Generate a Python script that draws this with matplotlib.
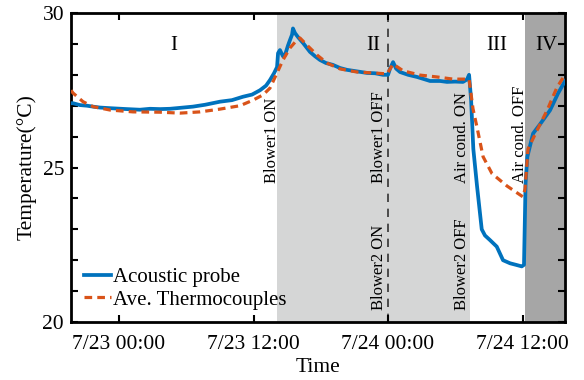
import matplotlib.pyplot as plt
import pandas as pd

# hours relative to 7/23 00:00
probe_hours = [-4.28, -4.10, -3.48, -2.86, -2.32, -1.70, -0.80, 0.71, 1.87, 2.77,
               3.66, 4.55, 5.44, 6.60, 7.67, 9.01, 10.08, 11.06, 11.87, 12.58,
               13.12, 13.47, 13.83, 14.10, 14.19, 14.36, 14.63, 14.81, 15.08, 15.26,
               15.44, 15.52, 15.70, 15.97, 16.42, 17.04, 17.49, 17.93, 18.47, 19.09,
               19.72, 20.34, 21.06, 22.13, 22.84, 23.55, 24.0, 24.18, 24.45, 24.72,
               25.07, 25.79, 26.59, 27.75, 28.64, 29.26, 29.98, 30.69, 31.05, 31.23,
               31.41, 31.61, 31.94, 32.36, 32.65, 33.10, 33.70, 34.26, 34.89, 35.42,
               35.93, 36.13, 36.27, 36.43, 36.94, 37.56, 38.45, 39.17, 39.79]
probe_temp = [27.08, 27.08, 27.02, 27.0, 26.97, 26.94, 26.92, 26.89, 26.87, 26.9,
              26.89, 26.9, 26.93, 26.97, 27.03, 27.13, 27.18, 27.29, 27.36, 27.5,
              27.65, 27.83, 28.05, 28.25, 28.7, 28.8, 28.6, 28.64, 28.95, 29.13,
              29.3, 29.5, 29.35, 29.22, 29.03, 28.74, 28.6, 28.48, 28.38, 28.32,
              28.22, 28.16, 28.12, 28.06, 28.05, 28.0, 28.0, 28.2, 28.41, 28.2,
              28.09, 28.0, 27.93, 27.8, 27.8, 27.77, 27.78, 27.77, 27.85, 28.0,
              27.2, 25.6, 24.4, 23.0, 22.8, 22.65, 22.44, 22.0, 21.9, 21.85,
              21.8, 21.85, 24.5, 25.35, 26.1, 26.4, 26.85, 27.4, 27.8]

tc_hours = [-4.28, -4.10, -3.21, -2.32, -0.80, 1.25, 3.66, 5.44, 7.23, 9.01,
            10.80, 11.96, 12.85, 13.47, 14.10, 14.63, 15.26, 15.88, 16.15, 16.77,
            17.67, 18.56, 19.72, 21.23, 22.66, 23.91, 24.45, 25.34, 26.86, 28.37,
            29.80, 31.23, 31.58, 31.94, 32.48, 33.28, 34.62, 36.04, 36.22, 36.49,
            37.29, 38.19, 39.08, 39.79]
tc_temp = [27.5, 27.41, 27.13, 26.97, 26.86, 26.8, 26.79, 26.76, 26.8, 26.89,
           27.0, 27.18, 27.35, 27.57, 28.06, 28.48, 28.87, 29.13, 29.19, 28.96,
           28.64, 28.38, 28.19, 28.09, 28.06, 28.03, 28.35, 28.13, 27.99, 27.93,
           27.86, 27.86, 26.9, 26.3, 25.35, 24.8, 24.4, 24.05, 24.3, 25.6,
           26.2, 26.85, 27.6, 28.0]

tick_hours = [0, 12, 24, 36]
tick_labels = ["7/23 00:00", "7/23 12:00", "7/24 00:00", "7/24 12:00"]

phase_labels = ["I", "II", "III", "IV"]
phase_label_hours = [4.85, 22.7, 33.7, 38.1]
light_span = (14.10, 31.32)
dark_span = (36.22, 39.79)
divider_hour = 24.0

events = ["Blower1 ON", "Blower1 OFF", "Air cond. ON", "Air cond. OFF",
          "Blower2 ON", "Blower2 OFF"]
event_hours = [13.65, 23.2, 30.6, 35.8, 23.2, 30.6]
event_base = [24.5, 24.5, 24.5, 24.5, 20.39, 20.39]

base = pd.Timestamp("2020-07-23 00:00")


def to_time(hours):
    return [base + pd.Timedelta(hours=h) for h in hours]


plt.rcParams["font.family"] = ["Liberation Serif", "DejaVu Serif"]

fig = plt.figure(figsize=(5.84, 3.80), dpi=100)
ax = fig.add_axes([0.1216, 0.1526, 0.8459, 0.8132])

ax.axvspan(to_time([light_span[0]])[0], to_time([light_span[1]])[0],
           color="#D5D6D6", lw=0, zorder=0)
ax.axvspan(to_time([dark_span[0]])[0], to_time([dark_span[1]])[0],
           color="#A6A6A6", lw=0, zorder=0)
ax.axvline(to_time([divider_hour])[0], color="#333333", lw=1.2,
           dashes=(5, 4), zorder=1)

ax.plot(to_time(probe_hours), probe_temp, color="#0072BD", lw=2.7,
        label="Acoustic probe", zorder=3)
ax.plot(to_time(tc_hours), tc_temp, color="#D95319", lw=2.3,
        dashes=(2.4, 1.6), label="Ave. Thermocouples", zorder=4)

for lab, h in zip(phase_labels, phase_label_hours):
    ax.text(to_time([h])[0], 28.95, lab, fontsize=15, ha="center", va="center")

for lab, h, yb in zip(events, event_hours, event_base):
    ax.text(to_time([h])[0], yb, lab, fontsize=12, rotation=90,
            ha="center", va="bottom")

ax.set_xlim(to_time([probe_hours[0]])[0], to_time([probe_hours[-1]])[0])
ax.set_ylim(20, 30)
ax.set_xticks(to_time(tick_hours))
ax.set_xticklabels(tick_labels)
ax.set_yticks([20, 25, 30])
ax.set_yticks(range(20, 31), minor=True)
ax.tick_params(which="both", direction="in", top=True, right=True,
               width=1.5, length=5, labelsize=15.5)
ax.tick_params(axis="x", pad=9)
ax.tick_params(axis="y", pad=5)
for s in ax.spines.values():
    s.set_linewidth(2)

ax.set_xlabel("Time", fontsize=15.5, labelpad=3)
ax.set_ylabel("Temperature(°C)", fontsize=15.5, labelpad=4)

ax.legend(loc="lower left", frameon=False, fontsize=15, handlelength=1.3,
          handletextpad=0.1, labelspacing=0.15, borderaxespad=0.2,
          bbox_to_anchor=(0.0, 0.0))

fig.savefig("out.png", dpi=100)
